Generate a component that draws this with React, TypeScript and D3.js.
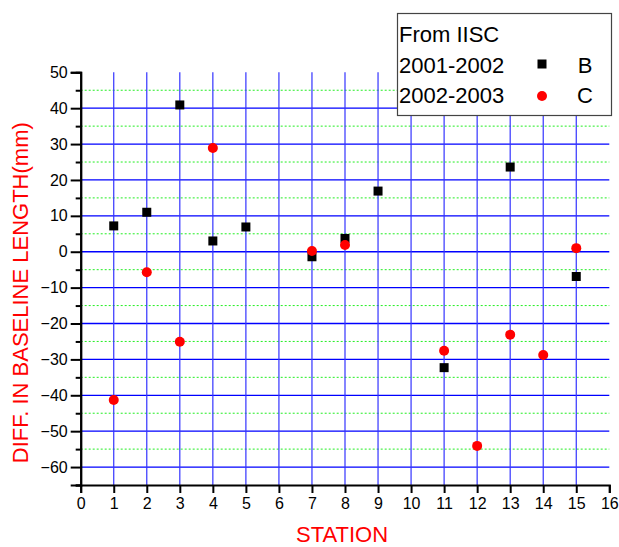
import React, { useRef, useEffect } from 'react';
import * as d3 from 'd3';

const stationsB = [1, 2, 3, 4, 5, 7, 8, 9, 11, 13, 15];
const valuesB = [7.2, 11.0, 40.9, 3.0, 6.9, -1.4, 3.7, 16.9, -32.3, 23.6, -6.9];
const stationsC = [1, 2, 3, 4, 7, 8, 11, 12, 13, 14, 15];
const valuesC = [-41.3, -5.7, -25.1, 28.9, 0.2, 1.9, -27.6, -54.1, -23.1, -28.8, 1.0];
const xTicks = d3.range(0, 17);
const yTicks = [50, 40, 30, 20, 10, 0, -10, -20, -30, -40, -50, -60];
const yMinor = [45, 35, 25, 15, 5, -5, -15, -25, -35, -45, -55, -65];
const legendRows = ['2001-2002', '2002-2003'];
const legendNames = ['B', 'C'];

const App = () => {
  const ref = useRef<SVGSVGElement>(null);

  useEffect(() => {
    const svg = d3.select(ref.current);
    svg.selectAll('*').remove();

    const width = 619, height = 547;
    const m = { left: 80.7, right: 9.7, top: 72.3, bottom: 62 };
    const font = 'Liberation Sans, Arial, sans-serif';

    const x = d3.scaleLinear().domain([0, 16]).range([m.left, width - m.right]);
    const y = d3.scaleLinear().domain([-65, 50]).range([height - m.bottom, m.top]);

    const g = svg.append('g');

    // minor horizontal grid (green dotted)
    g.selectAll('.gmin')
      .data(yMinor.filter((v) => v > -65))
      .enter()
      .append('line')
      .attr('x1', x(0)).attr('x2', x(16))
      .attr('y1', (d) => y(d)).attr('y2', (d) => y(d))
      .attr('stroke', '#22ee22')
      .attr('stroke-width', 1)
      .attr('stroke-dasharray', '2,2');

    // major horizontal grid
    g.selectAll('.gmaj')
      .data(yTicks.filter((v) => v < 50))
      .enter()
      .append('line')
      .attr('x1', x(0)).attr('x2', x(16))
      .attr('y1', (d) => y(d)).attr('y2', (d) => y(d))
      .attr('stroke', '#0000ff')
      .attr('stroke-width', 1.3);

    // vertical grid
    g.selectAll('.gv')
      .data(xTicks.filter((v) => v > 0 && v < 16))
      .enter()
      .append('line')
      .attr('x1', (d) => x(d)).attr('x2', (d) => x(d))
      .attr('y1', y(50)).attr('y2', y(-65))
      .attr('stroke', '#3333ff')
      .attr('stroke-width', 1.2);

    // axes
    const xAxis = d3.axisBottom(x).tickValues(xTicks).tickSize(8).tickPadding(5).tickFormat(d3.format('d'));
    const ax = g.append('g').attr('transform', `translate(0,${y(-65)})`).call(xAxis);
    const yAxis = d3.axisLeft(y).tickValues(yTicks).tickSize(10).tickPadding(3).tickFormat(d3.format('d'));
    const ay = g.append('g').attr('transform', `translate(${x(0)},0)`).call(yAxis);
    g.append('g')
      .attr('transform', `translate(${x(0)},0)`)
      .call(d3.axisLeft(y).tickValues(yMinor).tickSize(5).tickFormat(() => ''));

    g.selectAll('.domain').attr('stroke', '#000').attr('stroke-width', 2);
    g.selectAll('.tick line').attr('stroke', '#000').attr('stroke-width', 2);
    [ax, ay].forEach((a) =>
      a.selectAll('text').attr('font-family', font).attr('font-size', 16).attr('fill', '#000')
    );

    // markers B
    g.selectAll('.ptB')
      .data(stationsB.map((s, i) => [s, valuesB[i]]))
      .enter()
      .append('rect')
      .attr('x', (d) => x(d[0]) - 4.5)
      .attr('y', (d) => y(d[1]) - 4.5)
      .attr('width', 9).attr('height', 9)
      .attr('fill', '#000');

    // markers C
    g.selectAll('.ptC')
      .data(stationsC.map((s, i) => [s, valuesC[i]]))
      .enter()
      .append('circle')
      .attr('cx', (d) => x(d[0]))
      .attr('cy', (d) => y(d[1]))
      .attr('r', 5)
      .attr('fill', '#ff0000');

    // axis titles
    svg.append('text')
      .attr('x', 342)
      .attr('y', 542)
      .attr('text-anchor', 'middle')
      .attr('font-family', font).attr('font-size', 22)
      .attr('fill', '#ff0000')
      .text('STATION');

    svg.append('text')
      .attr('transform', `translate(28,292.7) rotate(-90)`)
      .attr('text-anchor', 'middle')
      .attr('font-family', font).attr('font-size', 22)
      .attr('fill', '#ff0000')
      .text('DIFF. IN BASELINE LENGTH(mm)');

    // legend
    const lg = svg.append('g');
    lg.append('rect')
      .attr('x', 397.5).attr('y', 13.5)
      .attr('width', 214).attr('height', 102)
      .attr('fill', '#fff').attr('stroke', '#444').attr('stroke-width', 1.2);
    lg.append('text')
      .attr('x', 399).attr('y', 42)
      .attr('font-family', font).attr('font-size', 22).attr('fill', '#000')
      .text('From IISC');
    legendRows.forEach((r, i) => {
      const yy = 73 + i * 30;
      lg.append('text')
        .attr('x', 399).attr('y', yy)
        .attr('font-family', font).attr('font-size', 22).attr('fill', '#000')
        .text(r);
      lg.append('text')
        .attr('x', 585).attr('y', yy)
        .attr('text-anchor', 'middle')
        .attr('font-family', font).attr('font-size', 22).attr('fill', '#000')
        .text(legendNames[i]);
    });
    lg.append('rect').attr('x', 542 - 4.5).attr('y', 64 - 4.5).attr('width', 9).attr('height', 9).attr('fill', '#000');
    lg.append('circle').attr('cx', 542).attr('cy', 96).attr('r', 5).attr('fill', '#ff0000');
  }, []);

  return (
    <svg
      ref={ref}
      width={619}
      height={547}
      style={{ position: 'absolute', left: 0, top: 0, background: '#fff' }}
    ></svg>
  );
};

export default App;
